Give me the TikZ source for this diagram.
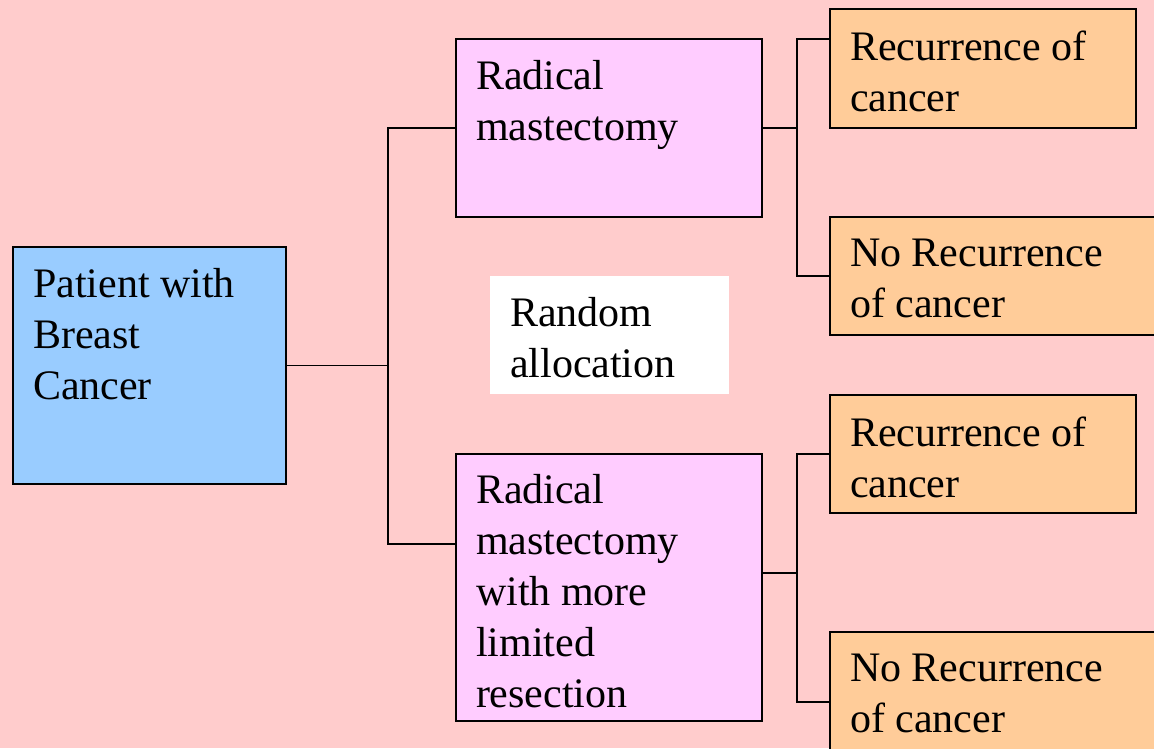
\documentclass[tikz,border=0pt]{standalone}
\usepackage{fontspec}
\setmainfont{Liberation Serif}
\definecolor{bgpink}{HTML}{FFCCCC}
\definecolor{bluebox}{HTML}{99CCFF}
\definecolor{violetbox}{HTML}{FFCCFF}
\definecolor{orangebox}{HTML}{FFCC99}
\tikzset{
  boxbase/.style={anchor=north west, inner sep=0pt, outer sep=0pt, draw=black, line width=1.8pt},
  bluerect/.style={boxbase, fill=bluebox},
  violetrect/.style={boxbase, fill=violetbox},
  orangerect/.style={boxbase, fill=orangebox},
  whiterect/.style={anchor=north west, inner sep=0pt, outer sep=0pt, fill=white},
  txt/.style={anchor=north west, inner sep=0pt, outer sep=0pt, align=left, font=\fontsize{42}{51}\selectfont},
  conn/.style={draw=black, line width=1.6pt}
}
\begin{document}
\begin{tikzpicture}[x=1pt,y=-1pt]
\clip (0,0) rectangle (1154,748);
\fill[bgpink] (0,0) rectangle (1154,748);
% boxes
\node[bluerect, minimum width=273pt, minimum height=237pt] (P) at (13,247) {};
\node[violetrect, minimum width=306pt, minimum height=178pt] (R1) at (456,39) {};
\node[violetrect, minimum width=306pt, minimum height=267pt] (R2) at (456,454) {};
\node[whiterect, minimum width=239pt, minimum height=118pt] (A) at (490,276) {};
\node[orangerect, minimum width=306pt, minimum height=119pt] (O1) at (830,9) {};
\node[orangerect, minimum width=340pt, minimum height=118pt] (O2) at (830,217) {};
\node[orangerect, minimum width=306pt, minimum height=118pt] (O3) at (830,395) {};
\node[orangerect, minimum width=340pt, minimum height=140pt] (O4) at (830,632) {};
% texts
\node[txt] (tP) at ([shift={(20,21)}]P.north west) {Patient with\\Breast\\Cancer};
\node[txt] (tR1) at ([shift={(20,21)}]R1.north west) {Radical\\mastectomy};
\node[txt] (tR2) at ([shift={(20,20)}]R2.north west) {Radical\\mastectomy\\with more\\limited\\resection};
\node[txt] (tA) at ([shift={(20,21)}]A.north west) {Random\\allocation};
\node[txt] (tO1) at ([shift={(20,22)}]O1.north west) {Recurrence of\\cancer};
\node[txt] (tO2) at ([shift={(20,22)}]O2.north west) {No Recurrence\\of cancer};
\node[txt] (tO3) at ([shift={(20,22)}]O3.north west) {Recurrence of\\cancer};
\node[txt] (tO4) at ([shift={(20,22)}]O4.north west) {No Recurrence\\of cancer};
% junction coordinates
\coordinate (j1) at (388,0);
\coordinate (j2) at (797,0);
\coordinate (R2in) at ([yshift=-90pt]R2.north west);
\coordinate (R2out) at ([yshift=-119pt]R2.north east);
\coordinate (O1in) at ([yshift=-30pt]O1.north west);
% connectors
\draw[conn] (P.east) -- (P.east -| j1);
\draw[conn] (R1.west) -- (R1.west -| j1) -- (R2in -| j1) -- (R2in);
\draw[conn] (R1.east) -- (R1.east -| j2);
\draw[conn] (O1in) -- (O1in -| j2) -- (O2.west -| j2) -- (O2.west);
\draw[conn] (R2out) -- (R2out -| j2);
\draw[conn] (O3.west) -- (O3.west -| j2) -- (O4.west -| j2) -- (O4.west);
\end{tikzpicture}
\end{document}
